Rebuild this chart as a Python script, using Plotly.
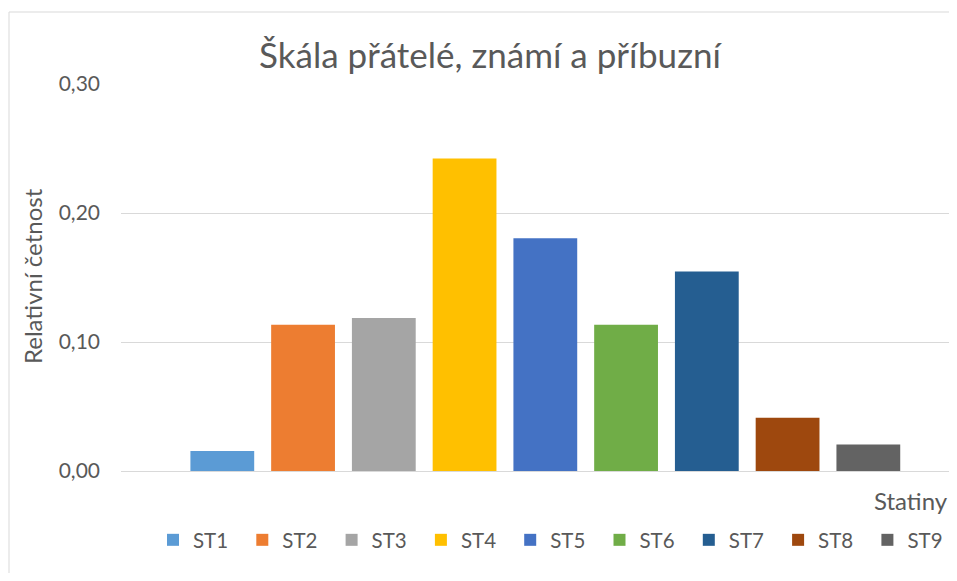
import plotly.graph_objects as go

categories = ["ST1", "ST2", "ST3", "ST4", "ST5", "ST6", "ST7", "ST8", "ST9"]
values = [0.0155, 0.1134, 0.1186, 0.2423, 0.1804, 0.1134, 0.1546, 0.0412, 0.0206]
colors = ["#5B9BD5", "#ED7D31", "#A5A5A5", "#FFC000", "#4472C4",
          "#70AD47", "#255E91", "#9E480E", "#636363"]
y_ticks = [0.0, 0.1, 0.2, 0.3]
y_ticktext = ["0,00", "0,10", "0,20", "0,30"]

FONT = "Lato"
TXT = "#595959"

OFF = 8  # page body margin
W, H = 957 - OFF, 581 - 2 * OFF
L, T, PW, PH = 121 - OFF, 84 - OFF, 836, 387


def px_x(p):
    # screen x -> paper fraction
    return (p - OFF - L) / PW


def px_y(p):
    # screen y -> paper fraction
    return (T + PH - (p - OFF)) / PH


fig = go.Figure()
for cat, val, col in zip(categories, values, colors):
    fig.add_trace(go.Bar(x=[cat], y=[val], name=cat, marker_color=col,
                         marker_line_width=0, width=0.79))

fig.update_layout(
    width=W, height=H,
    margin=dict(l=L, r=W - L - PW, t=T, b=H - T - PH, autoexpand=False),
    paper_bgcolor="white", plot_bgcolor="white",
    barmode="overlay",
    font=dict(family=FONT, color=TXT, size=20),
    title=dict(text="Škála přátelé, známí a příbuzní", x=(490 - OFF) / W, xanchor="center",
               y=1 - (56 - OFF) / H, yanchor="middle",
               font=dict(family=FONT, size=35, color=TXT)),
    xaxis=dict(categoryorder="array", categoryarray=categories,
               range=[-1.2545, 9.098], showticklabels=False, ticks="",
               showgrid=False, showline=False, zeroline=False, fixedrange=True),
    yaxis=dict(range=[0, 0.3], tickvals=y_ticks, ticktext=y_ticktext,
               showgrid=True, gridcolor="#D9D9D9", gridwidth=1,
               zeroline=True, zerolinecolor="#D9D9D9", zerolinewidth=1,
               showline=False, ticks="", ticklabelstandoff=20,
               tickfont=dict(size=21, color=TXT, family=FONT)),
    legend=dict(orientation="h", x=px_x(153), xanchor="left",
                y=px_y(540), yanchor="middle",
                entrywidth=44.3, entrywidthmode="pixels",
                font=dict(size=20.5, color=TXT, family=FONT),
                itemclick=False, itemdoubleclick=False,
                bgcolor="rgba(0,0,0,0)"),
    showlegend=True,
    shapes=[dict(type="rect", xref="paper", yref="paper",
                 x0=px_x(9), x1=1.2, y0=-1, y1=px_y(12),
                 line=dict(color="#D9D9D9", width=1), fillcolor="rgba(0,0,0,0)",
                 layer="below")],
    annotations=[
        dict(text="Statiny", xref="paper", yref="paper",
             x=px_x(950), xanchor="right", y=px_y(500), yanchor="middle",
             showarrow=False, font=dict(size=24, color=TXT, family=FONT)),
        dict(text="Relativní četnost", xref="paper", yref="paper", textangle=-90,
             x=px_x(32), xanchor="center", y=px_y(276), yanchor="middle",
             showarrow=False, font=dict(size=24, color=TXT, family=FONT)),
    ],
)

fig.write_html("out.html")
